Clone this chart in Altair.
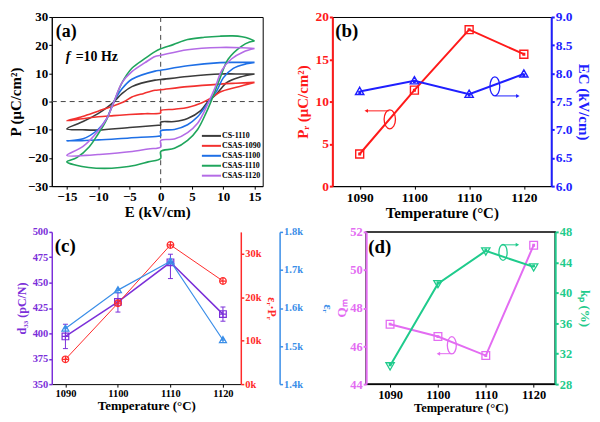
import altair as alt
import pandas as pd

FONT = "Liberation Serif"

# ---------------- (a) P-E hysteresis loops: (E kV/cm, P uC/cm2) ----------------
SAMPLES = ["CS-1110", "CSAS-1090", "CSAS-1100", "CSAS-1110", "CSAS-1120"]
SAMPLE_COLORS = ["#3b3b3b", "#f2312f", "#1e6fe6", "#1fa55c", "#b46be6"]

LOOP_CS1110 = [(15, 9.8), (12, 9.8), (9.5, 9.8), (4.3, 8.9), (0, 7.8), (-0.9, 7.6), (-4.6, 5.3),
               (-6.15, 2.9), (-7.45, 0), (-8.5, -2), (-10, -4.3), (-12.4, -7.1), (-15, -9.7),
               (-12.5, -10.0), (-10, -10.1), (-5, -9.2), (-0.4, -8.4), (0, -8.3), (0, -7.3),
               (2.2, -7.1), (4.3, -6), (6.4, -3.2), (7.4, -0.4), (9.0, 2.9), (10.6, 6.8),
               (12.7, 8.7), (15, 9.8)]
LOOP_CSAS1090 = [(15, 6.8), (12, 6.5), (9.5, 6.2), (4.3, 5.3), (0, 4.2), (-0.9, 4.0), (-2.7, 2.9),
                 (-4.6, 1.6), (-5.8, 0), (-7.5, -1.5), (-10, -3.4), (-12.5, -5.3), (-15, -6.8),
                 (-12.5, -6.1), (-10, -5.4), (-7.5, -5.0), (-5, -4.6), (-2.5, -4.3), (0, -4.0),
                 (0, -3.2), (2.2, -2.7), (4.3, -2.1), (6.6, -0.4), (8, 1.2), (9.5, 3.4),
                 (12.1, 5.1), (15, 6.8)]
LOOP_CSAS1100 = [(15, 13.9), (12, 13.9), (9.5, 13.8), (4.3, 12.7), (0, 11.1), (-0.9, 10.8),
                 (-4.6, 7.9), (-6.15, 4.6), (-7.45, 0), (-8.0, -2.8), (-8.6, -6.0), (-10, -9.9),
                 (-12.4, -13.2), (-15, -14), (-10, -13.6), (-5, -12.9), (-0.4, -12.3), (0, -12.1),
                 (0, -10.4), (2.2, -9.9), (4.3, -8.2), (5.9, -5.4), (7.2, -1.6), (7.7, 0),
                 (9.0, 4), (10.0, 8.4), (11.6, 11.8), (13.7, 13.4), (15, 13.9)]
LOOP_CSAS1110 = [(15, 21.5), (14.2, 22.3), (13, 23.0), (11.5, 23.3), (9.5, 23.2), (7, 22.8),
                 (4.3, 22.0), (2, 20.2), (0, 18.7), (-0.9, 17.7), (-2.5, 15.3), (-4.6, 11.8),
                 (-6.15, 6.8), (-7.45, 0), (-8.8, -7.1), (-10, -11.5), (-11.4, -16), (-13.4, -19.9),
                 (-15, -21.4), (-13.5, -22.6), (-11.5, -23.4), (-9, -23.7), (-6.5, -23.4),
                 (-4, -22.6), (-2, -21.4), (0, -20.2), (0, -17.7), (2.2, -16.6), (4.3, -13.8),
                 (5.9, -9.9), (7.2, -4.3), (8.0, -0.2), (9.5, 8.4), (10.8, 15.1), (12.9, 19.6),
                 (14.2, 21.1), (15, 21.5)]
LOOP_CSAS1120 = [(15, 18.8), (13, 19.1), (9.5, 19.2), (4.3, 18.4), (0, 16.4), (-0.9, 16.0),
                 (-2.5, 13.8), (-4.6, 10.6), (-6.15, 6.8), (-7.45, 0), (-8.6, -6), (-10, -10.4),
                 (-12.4, -15.9), (-15, -19.1), (-12, -19.1), (-10, -18.8), (-5, -17.8),
                 (-2, -16.8), (0, -16.1), (0, -13.8), (2.2, -13.3), (4.3, -11), (5.9, -7.7),
                 (6.9, -3.8), (7.7, 0), (8.7, 5.0), (9.8, 11.2), (11.3, 15.1), (13.2, 17.6),
                 (15, 18.8)]
LOOPS = [LOOP_CS1110, LOOP_CSAS1090, LOOP_CSAS1100, LOOP_CSAS1110, LOOP_CSAS1120]
E_TICKS = [-15, -10, -5, 0, 5, 10, 15]
P_TICKS = [-30, -20, -10, 0, 10, 20, 30]

# ---------------- (b) Pr and Ec vs temperature ----------------
TEMPS = [1090, 1100, 1110, 1120]
PR = [3.8, 11.35, 18.5, 15.6]
EC = [7.68, 7.87, 7.63, 7.99]
PR_TICKS = [0, 5, 10, 15, 20]
EC_TICKS = [6.0, 6.5, 7.0, 7.5, 8.0, 8.5, 9.0]

# ---------------- (c) d33, er*Pr, er ----------------
D33 = [397, 431, 470, 419]
D33_LO = [385, 421, 454, 412]
D33_HI = [409, 440, 478, 426]
ERPR = [5700, 18600, 32000, 23700]
ER = [1546, 1647, 1723, 1516]
D33_TICKS = [350, 375, 400, 425, 450, 475, 500]
ERPR_TICKS = [0, 10000, 20000, 30000]
ER_TICKS = [1400, 1500, 1600, 1700, 1800]

# ---------------- (d) Qm, kp ----------------
QM = [47.15, 46.5, 45.5, 51.3]
KP = [30.4, 41.2, 45.5, 43.4]
QM_TICKS = [44, 46, 48, 50, 52]
KP_TICKS = [28, 32, 36, 40, 44, 48]

# annotation ellipses (T, value) and arrows (T_from, T_to, value)
B_PR_ELLIPSE = (1095.5, 7.9)
B_PR_ARROW = (1095.4, 1091.2, 8.9)
B_EC_ELLIPSE = (1114.7, 7.77)
B_EC_ARROW = (1114.8, 1118.9, 7.6)
D_KP_ELLIPSE = (1113.6, 45.3)
D_KP_ARROW = (1113.4, 1116.6, 46.3)
D_QM_ELLIPSE = (1102.9, 46.04)
D_QM_ARROW = (1102.8, 1100.1, 45.6)

RED_B, BLUE_B = "#ff1a1a", "#1f1fff"
PURPLE_C, RED_C, BLUE_C = "#7b2fd9", "#ff2a2a", "#3a8ee8"
MAG_D, GREEN_D = "#e36cf2", "#1fcb8c"

SQ_DOT = "M-1,-1H1V1H-1Z M-0.2,-0.2H0.2V0.2H-0.2Z"
TRI_UP_DOT = "M0,-1L1,0.75H-1Z M-0.17,0.05H0.17V0.38H-0.17Z"
TRI_DN_DOT = "M-1,-0.75H1L0,1Z M-0.17,-0.38H0.17V-0.05H-0.17Z"
SQ_CROSS = "M-1,-1H1V1H-1Z M-1,0H1 M0,-1V1"
CIRC_CROSS = "M-1,0A1,1,0,1,1,1,0A1,1,0,1,1,-1,0Z M-1,0H1 M0,-1V1"
TRI_CROSS = "M0,-1L1,0.75H-1Z M-0.55,0.05H0.55 M0,-1V0.75"
ELLIPSE_W = "M0,-1A0.6,1,0,1,1,0,1A0.6,1,0,1,1,0,-1Z"
ELLIPSE_N = "M0,-1A0.52,1,0,1,1,0,1A0.52,1,0,1,1,0,-1Z"
LEGEND_LINE = "M-2.75,0H2.75"


def ax(color="black", lsize=13, tsize=15, dw=1, **kw):
    return alt.Axis(labelFont=FONT, labelFontWeight="bold", labelFontSize=lsize,
                    labelColor=color, titleFont=FONT, titleFontWeight="bold",
                    titleFontSize=tsize, titleColor=color, domainColor=color,
                    domainWidth=dw, tickColor=color, tickWidth=dw, tickSize=3,
                    labelPadding=1, grid=False, **kw)


def label(text, x, y, size, style="normal"):
    return alt.Chart(pd.DataFrame({"t": [text]})).mark_text(
        font=FONT, fontWeight="bold", fontStyle=style, fontSize=size, align="left",
        baseline="alphabetic", color="black").encode(text="t:N", x=alt.value(x), y=alt.value(y))


def annot(xenc, ydef, yname, color, ellipse, arrow, ell_shape, ell_size, head):
    ell = alt.Chart(pd.DataFrame({"T": [ellipse[0]], yname: [ellipse[1]]})).mark_point(
        shape=ell_shape, size=ell_size, filled=False, color=color, strokeWidth=1.3,
        opacity=1).encode(x=xenc, y=ydef)
    arr = alt.Chart(pd.DataFrame({"T": [arrow[0]], "T2": [arrow[1]], yname: [arrow[2]]})).mark_rule(
        color=color, strokeWidth=1).encode(x=xenc, x2="T2:Q", y=ydef)
    hd = alt.Chart(pd.DataFrame({"T": [arrow[1]], yname: [arrow[2]]})).mark_point(
        shape=head, size=16, filled=True, color=color, opacity=1).encode(x=xenc, y=ydef)
    return [ell, arr, hd]


# ---------------- panel (a) ----------------
rows = []
for name, pts in zip(SAMPLES, LOOPS):
    for i, (e, p) in enumerate(pts):
        rows.append({"sample": name, "E": e, "P": p, "i": i})
df_a = pd.DataFrame(rows)

sc_e = alt.Scale(domain=[-17.4, 16.3], nice=False, zero=False)
sc_p = alt.Scale(domain=[-30, 30], nice=False, zero=False)
xa = alt.X("E:Q", scale=sc_e, axis=ax(values=E_TICKS, title="E (kV/cm)", titlePadding=2))
ya = alt.Y("P:Q", scale=sc_p, axis=ax(values=P_TICKS, title="P (μC/cm²)", titlePadding=4))

loops = alt.Chart(df_a).mark_line(strokeWidth=1.6, interpolate="catmull-rom").encode(
    x=xa, y=ya, order="i:Q",
    color=alt.Color("sample:N", scale=alt.Scale(domain=SAMPLES, range=SAMPLE_COLORS),
                    legend=alt.Legend(title=None, orient="none", legendX=156, legendY=115,
                                      labelFont=FONT, labelFontWeight="bold", labelFontSize=8,
                                      labelColor="black", symbolType=LEGEND_LINE,
                                      symbolStrokeWidth=2, symbolSize=49, rowPadding=1,
                                      labelOffset=6, padding=0)))
hz = alt.Chart(pd.DataFrame({"P": [0]})).mark_rule(strokeDash=[5, 4], color="#444", strokeWidth=1).encode(y=ya)
vz = alt.Chart(pd.DataFrame({"E": [0]})).mark_rule(strokeDash=[5, 4], color="#444", strokeWidth=1).encode(x=xa)

panel_a = alt.layer(
    hz, vz, loops,
    label("(a)", 4, 20, 18), label("f", 14, 44, 14, "italic"), label("=10 Hz", 24, 44, 14)
).properties(width=212, height=170, view=alt.ViewBackground(stroke="black", strokeWidth=1))

# ---------------- panel (b) ----------------
df_b = pd.DataFrame({"T": TEMPS, "Pr": PR, "Ec": EC})
xb = alt.X("T:Q", scale=alt.Scale(domain=[1085, 1125], nice=False, zero=False),
           axis=ax(values=TEMPS, format="d", title="Temperature (°C)", lsize=13.5, titlePadding=2))
yb_pr = alt.Y("Pr:Q", scale=alt.Scale(domain=[0, 20], nice=False, zero=False),
              axis=ax(RED_B, 13.5, 15, 2, values=PR_TICKS, title="Pᵣ (μC/cm²)", orient="left", titlePadding=4))
yb_ec = alt.Y("Ec:Q", scale=alt.Scale(domain=[6, 9], nice=False, zero=False),
              axis=ax(BLUE_B, 13.5, 15, 2, values=EC_TICKS, format=".1f", title="EC (kV/cm)",
                      orient="right", titlePadding=4))

pr_group = alt.layer(
    alt.Chart(df_b).mark_line(color=RED_B, strokeWidth=2).encode(x=xb, y=yb_pr),
    alt.Chart(df_b).mark_point(shape=SQ_DOT, size=64, filled=False, color=RED_B, strokeWidth=1.4,
                               opacity=1).encode(x=xb, y=yb_pr),
    *annot(xb, yb_pr, "Pr", RED_B, B_PR_ELLIPSE, B_PR_ARROW, ELLIPSE_W, 361, "triangle-left"),
    label("(b)", 3, 20, 19),
)
ec_group = alt.layer(
    alt.Chart(df_b).mark_line(color=BLUE_B, strokeWidth=2).encode(x=xb, y=yb_ec),
    alt.Chart(df_b).mark_point(shape=TRI_UP_DOT, size=70, filled=False, color=BLUE_B, strokeWidth=1.4,
                               opacity=1).encode(x=xb, y=yb_ec),
    *annot(xb, yb_ec, "Ec", BLUE_B, B_EC_ELLIPSE, B_EC_ARROW, ELLIPSE_N, 361, "triangle-right"),
)
panel_b = alt.layer(pr_group, ec_group).resolve_scale(y="independent").properties(
    width=220, height=170, view=alt.ViewBackground(stroke="black", strokeWidth=1))

# ---------------- panel (c) ----------------
df_c = pd.DataFrame({"T": TEMPS, "d33": D33, "lo": D33_LO, "hi": D33_HI, "erpr": ERPR, "er": ER})
xc = alt.X("T:Q", scale=alt.Scale(domain=[1087.4, 1123.4], nice=False, zero=False),
           axis=ax(values=TEMPS, format="d", title="Temperature (°C)", lsize=10.5, tsize=13, titlePadding=1))
d33_axis = ax(PURPLE_C, 10.5, 12, 1.5, values=D33_TICKS, title="d₃₃ (pC/N)", orient="left", titlePadding=4)
sc_d33 = alt.Scale(domain=[350, 500], nice=False, zero=False)
yc_d33 = alt.Y("d33:Q", scale=sc_d33, axis=d33_axis)
yc_erpr = alt.Y("erpr:Q", scale=alt.Scale(domain=[0, 35000], nice=False, zero=False),
                axis=ax(RED_C, 10.5, 12, 1.5, values=ERPR_TICKS, format="~s", title="εᵣ·Pᵣ",
                        orient="right", titlePadding=3))
yc_er = alt.Y("er:Q", scale=alt.Scale(domain=[1400, 1800], nice=False, zero=False),
              axis=ax(BLUE_C, 10.5, 12, 1.5, values=ER_TICKS, format="~s", title="εᵣ",
                      orient="right", offset=39, titlePadding=18))

d33_group = alt.layer(
    alt.Chart(df_c).mark_rule(color=PURPLE_C, strokeWidth=1).encode(
        x=xc, y=alt.Y("lo:Q", scale=sc_d33, axis=d33_axis), y2="hi:Q"),
    alt.Chart(df_c).mark_tick(color=PURPLE_C, orient="horizontal", size=5, thickness=1, opacity=1).encode(
        x=xc, y=alt.Y("lo:Q", scale=sc_d33, axis=d33_axis)),
    alt.Chart(df_c).mark_tick(color=PURPLE_C, orient="horizontal", size=5, thickness=1, opacity=1).encode(
        x=xc, y=alt.Y("hi:Q", scale=sc_d33, axis=d33_axis)),
    alt.Chart(df_c).mark_line(color=PURPLE_C, strokeWidth=1.5).encode(x=xc, y=yc_d33),
    alt.Chart(df_c).mark_point(shape=SQ_CROSS, size=45, filled=False, color=PURPLE_C, strokeWidth=1.2,
                               opacity=1).encode(x=xc, y=yc_d33),
    label("(c)", 3, 20, 19),
)
erpr_group = alt.layer(
    alt.Chart(df_c).mark_line(color=RED_C, strokeWidth=1).encode(x=xc, y=yc_erpr),
    alt.Chart(df_c).mark_point(shape=CIRC_CROSS, size=45, filled=False, color=RED_C, strokeWidth=1.2,
                               opacity=1).encode(x=xc, y=yc_erpr),
)
er_group = alt.layer(
    alt.Chart(df_c).mark_line(color=BLUE_C, strokeWidth=1.2).encode(x=xc, y=yc_er),
    alt.Chart(df_c).mark_point(shape=TRI_CROSS, size=50, filled=False, color=BLUE_C, strokeWidth=1.2,
                               opacity=1).encode(x=xc, y=yc_er),
)
panel_c = alt.layer(d33_group, erpr_group, er_group).resolve_scale(y="independent").properties(
    width=190, height=153, view=alt.ViewBackground(stroke="transparent"))

# ---------------- panel (d) ----------------
df_d = pd.DataFrame({"T": TEMPS, "Qm": QM, "kp": KP})
xd = alt.X("T:Q", scale=alt.Scale(domain=[1085, 1124.5], nice=False, zero=False),
           axis=ax(values=TEMPS, format="d", title="Temperature (°C)", lsize=12.5, tsize=12.5, titlePadding=1))
yd_qm = alt.Y("Qm:Q", scale=alt.Scale(domain=[44, 52], nice=False, zero=False),
              axis=ax(MAG_D, 12.5, 13, 2, values=QM_TICKS, title="Qₘ", orient="left", titlePadding=1))
yd_kp = alt.Y("kp:Q", scale=alt.Scale(domain=[28, 48], nice=False, zero=False),
              axis=ax(GREEN_D, 12.5, 13, 2, values=KP_TICKS, title="kₚ (%)", orient="right", titlePadding=6))

qm_group = alt.layer(
    alt.Chart(df_d).mark_line(color=MAG_D, strokeWidth=2).encode(x=xd, y=yd_qm),
    alt.Chart(df_d).mark_point(shape=SQ_DOT, size=60, filled=False, color=MAG_D, strokeWidth=1.3,
                               opacity=1).encode(x=xd, y=yd_qm),
    *annot(xd, yd_qm, "Qm", MAG_D, D_QM_ELLIPSE, D_QM_ARROW, ELLIPSE_N, 300, "triangle-left"),
    label("(d)", 2, 21, 19),
)
kp_group = alt.layer(
    alt.Chart(df_d).mark_line(color=GREEN_D, strokeWidth=2).encode(x=xd, y=yd_kp),
    alt.Chart(df_d).mark_point(shape=TRI_DN_DOT, size=70, filled=False, color=GREEN_D, strokeWidth=1.3,
                               opacity=1).encode(x=xd, y=yd_kp),
    *annot(xd, yd_kp, "kp", GREEN_D, D_KP_ELLIPSE, D_KP_ARROW, ELLIPSE_N, 256, "triangle-right"),
)
panel_d = alt.layer(qm_group, kp_group).resolve_scale(y="independent").properties(
    width=190, height=153, view=alt.ViewBackground(stroke="black", strokeWidth=1.5))

row1 = alt.hconcat(panel_a, panel_b, spacing=32)
row2 = alt.hconcat(panel_c, panel_d, spacing=0)
chart = alt.vconcat(row1, row2, spacing=4).properties(
    padding={"left": 0, "top": 0, "right": 0, "bottom": 0})

chart.save("out.html", embed_options={"renderer": "svg", "actions": False})
